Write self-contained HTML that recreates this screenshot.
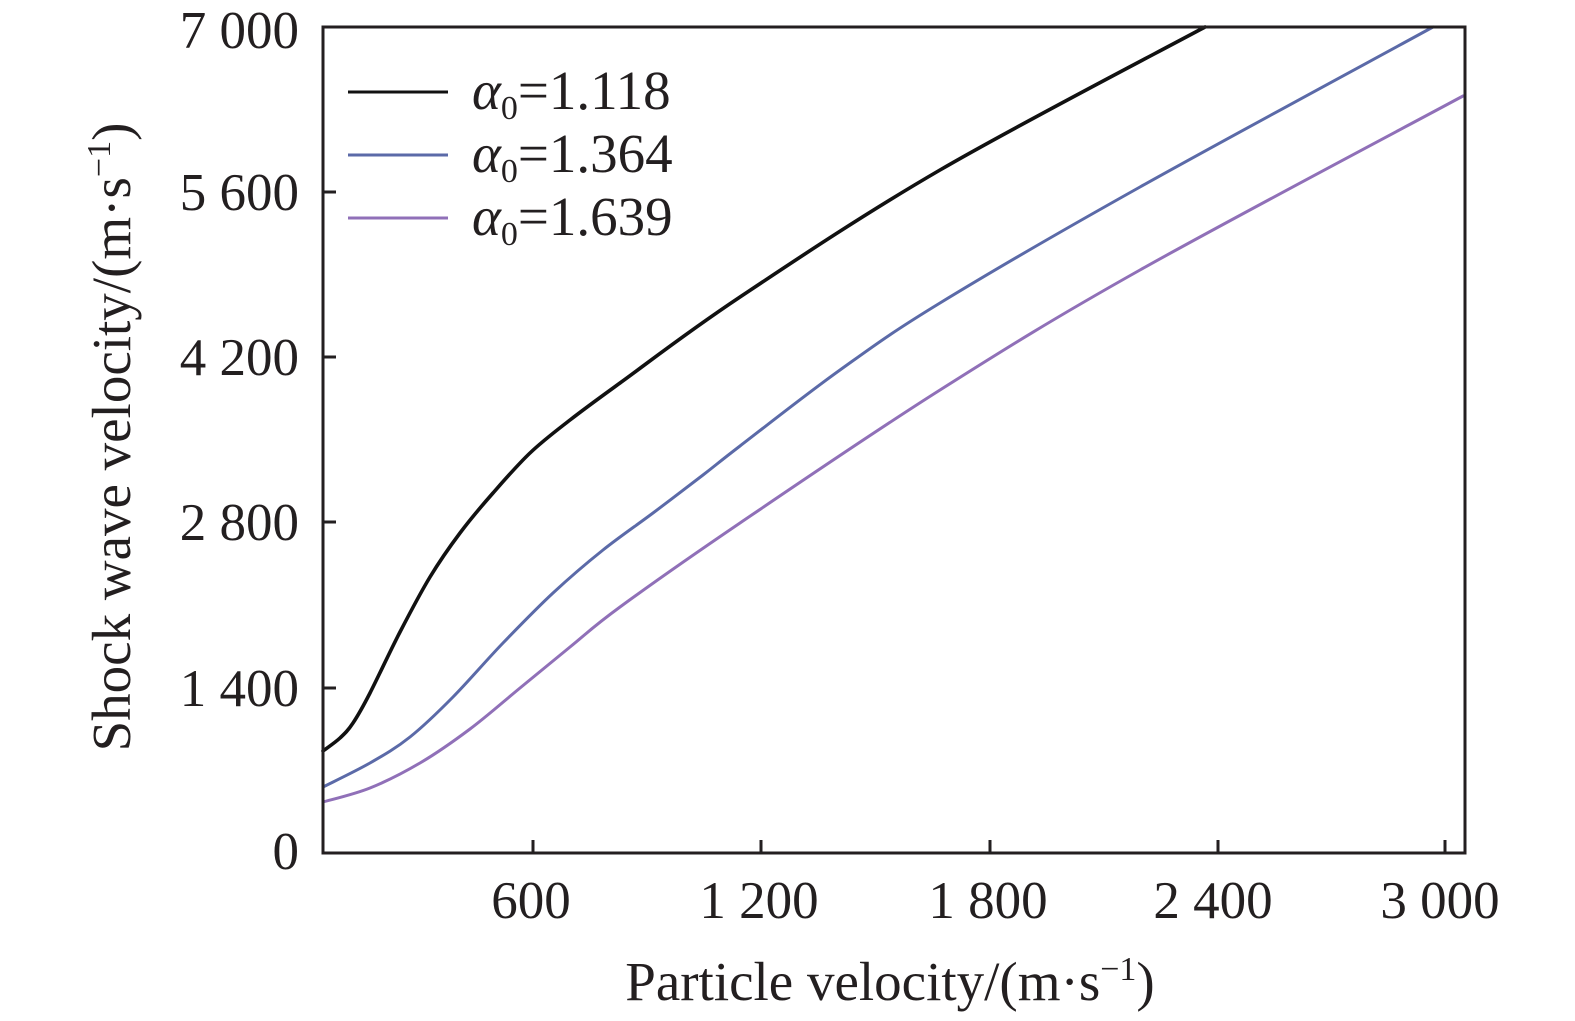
<!DOCTYPE html>
<html><head><meta charset="utf-8"><style>
html,body{margin:0;padding:0;background:#fff}
svg{display:block}
text{font-family:"Liberation Serif",serif;fill:#231f20}
</style></head><body>
<svg width="1575" height="1021" viewBox="0 0 1575 1021" xmlns="http://www.w3.org/2000/svg">
<g fill="none" stroke-linejoin="round" stroke-linecap="round">
<path id="c1" stroke="#111" stroke-width="3.6" d="M323,751 L340,738 L353,723 L370,693 L400,632 L430,577 L460,533 L493,493 L530,453 L570,420 L620,383 L740,297 L940,170 L1205,27"/>
<path id="c2" stroke="#5b6aa8" stroke-width="3" d="M323,787 L370,763 L410,737 L453,697 L503,643 L553,593 L603,550 L653,513 L703,475 L740,446 L840,370 L940,303 L1140,187 L1433,27"/>
<path id="c3" stroke="#9070b8" stroke-width="3" d="M323,802 L370,788 L420,763 L470,729 L520,688 L570,647 L620,607 L740,523 L940,390 L1140,270 L1463,96"/>
</g>
<g stroke="#231f20" stroke-width="3" fill="none">
<path d="M323,27 H1465 V853 H323 Z"/>
<path d="M323,192 h13 M323,357 h13 M323,522 h13 M323,688 h13"/>
<path d="M533,853 v-13 M761,853 v-13 M990,853 v-13 M1218,853 v-13 M1445,853 v-13"/>
</g>
<g font-size="53" text-anchor="end">
<text x="299" y="48">7 000</text>
<text x="299" y="210">5 600</text>
<text x="299" y="375">4 200</text>
<text x="299" y="540">2 800</text>
<text x="299" y="706">1 400</text>
<text x="299" y="869">0</text>
</g>
<g font-size="53" text-anchor="middle">
<text x="531" y="918">600</text>
<text x="759" y="918">1 200</text>
<text x="988" y="918">1 800</text>
<text x="1213" y="918">2 400</text>
<text x="1440" y="918">3 000</text>
</g>
<text x="890" y="1000" font-size="55" text-anchor="middle">Particle velocity/(m·s<tspan dy="-20" font-size="34">−1</tspan><tspan dy="20">)</tspan></text>
<text transform="translate(130,437) rotate(-90)" font-size="55" text-anchor="middle">Shock wave velocity/(m·s<tspan dy="-20" font-size="34">−1</tspan><tspan dy="20">)</tspan></text>
<g stroke-width="3">
<line x1="348" y1="92" x2="448" y2="92" stroke="#111"/>
<line x1="348" y1="155" x2="448" y2="155" stroke="#5b6aa8"/>
<line x1="348" y1="218" x2="448" y2="218" stroke="#9070b8"/>
</g>
<g font-size="55">
<text x="472" y="109"><tspan font-style="italic">α</tspan><tspan font-size="34" dy="10">0</tspan><tspan dy="-10">=1.118</tspan></text>
<text x="472" y="172"><tspan font-style="italic">α</tspan><tspan font-size="34" dy="10">0</tspan><tspan dy="-10">=1.364</tspan></text>
<text x="472" y="235"><tspan font-style="italic">α</tspan><tspan font-size="34" dy="10">0</tspan><tspan dy="-10">=1.639</tspan></text>
</g>
</svg>
<script>
function cr(p){var d="M"+p[0][0]+","+p[0][1];for(var i=0;i<p.length-1;i++){var p0=p[i-1]||p[i],p1=p[i],p2=p[i+1],p3=p[i+2]||p2;
var c1x=p1[0]+(p2[0]-p0[0])/6,c1y=p1[1]+(p2[1]-p0[1])/6,c2x=p2[0]-(p3[0]-p1[0])/6,c2y=p2[1]-(p3[1]-p1[1])/6;
d+=" C"+c1x.toFixed(1)+","+c1y.toFixed(1)+" "+c2x.toFixed(1)+","+c2y.toFixed(1)+" "+p2[0]+","+p2[1];}return d;}
["c1","c2","c3"].forEach(function(id){var el=document.getElementById(id);var s=el.getAttribute("d").replace(/[ML]/g," ").trim().split(/\s+/).map(function(t){return t.split(",").map(Number)});el.setAttribute("d",cr(s));});
</script>
</body></html>
